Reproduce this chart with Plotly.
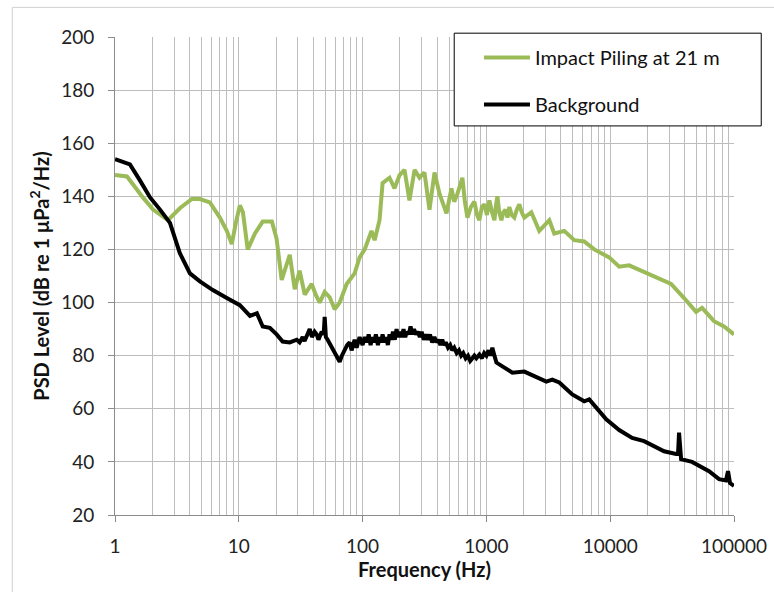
import plotly.graph_objects as go

# Power spectral density, impact piling vs. background
pile_freq = [1, 1.25, 1.68, 2.03, 2.68, 3.34, 4.18, 4.85, 5.84, 7.03, 8.0, 8.78, 9.46, 10.2,
             10.8, 11.8, 13.5, 15.6, 18.5, 20.2, 22.2, 23.9, 25.8, 28.3, 31.0, 34.1, 38.8,
             41.8, 45.0, 49.4, 54.2, 59.5, 65.3, 74.3, 86.2, 94.6, 104, 118, 125, 137, 145,
             165, 181, 199, 218, 239, 263, 288, 316, 347, 381, 418, 476, 522, 550, 584, 610,
             640, 670, 703, 750, 800, 840, 878, 920, 964, 1010, 1057, 1110, 1161, 1190, 1227,
             1270, 1322, 1370, 1423, 1480, 1532, 1600, 1681, 1760, 1845, 1930, 2024, 2306, 2674,
             3222, 3533, 4256, 5126, 6166, 7431, 9817, 11823, 14227, 18793, 24840, 31032,
             39525, 49377, 55228, 69003, 83058, 100000]
pile_psd = [148, 147.5, 139.6, 135, 131, 135.5, 139, 139, 137.7, 132, 127, 122, 130, 136.6,
            134, 120, 126, 130.5, 130.5, 124, 108.5, 113, 118, 105, 112, 103, 107,
            103, 100, 104, 102, 97.5, 100, 107, 111, 117, 120, 127, 123.5, 131, 145,
            147, 143, 148, 150, 138.5, 150, 147, 149, 135, 149, 141, 133.6, 143, 138, 141, 144,
            147, 138, 132, 136, 138, 133, 131, 136, 137, 133, 138.5, 134, 131, 136, 140,
            134, 131, 134, 135, 132, 136, 133, 132, 135, 137, 134, 132, 134, 127,
            131, 126, 127, 123.5, 123, 120, 117, 113.5, 114, 111.5, 109, 107,
            101.7, 96.5, 98, 93, 91, 88]

bg_freq = [1, 1.32, 1.59, 1.92, 2.31, 2.78, 3.34, 4.03, 4.85, 6.17, 8.0, 10.2, 12.3, 14.0,
           15.6, 17.8, 20.2, 22.6, 25.8, 29.4, 31, 32.8, 34, 35.5, 37.4, 39, 41, 42.6, 44,
           46.7, 48.5, 49.4, 50.5, 52.2, 55, 57.3, 60, 63, 65.3, 68, 71.6, 75, 78.6, 81.5,
           86.2, 89.5, 94.6, 98.2, 100, 104, 108, 112, 116, 120, 124, 128, 133, 137, 141,
           145, 150, 155, 160, 165, 170, 176, 182, 188, 194, 200, 207, 214, 221, 228, 236,
           244, 252, 260, 270, 280, 290, 300, 312, 325, 338, 350, 365, 380, 395, 410, 425,
           440, 455, 470, 490, 510, 530, 550, 575, 600, 625, 650, 680, 710, 740, 771, 800,
           830, 878, 920, 960, 1000, 1040, 1077, 1117, 1161, 1205, 1397,
           1621, 2024, 2531, 3048, 3406, 3878, 4939, 6166, 6771, 8155, 9289, 11823, 15036,
           18793, 22637, 27252, 34058, 35320, 35981, 36700, 37384, 45826, 52246, 62843,
           75694, 86100, 89470, 92880, 100000]
bg_psd = [154, 152, 146, 139.6, 135, 130, 118.6, 111, 108, 104.7, 101.7, 99, 95, 96,
          91, 90.5, 88, 85.3, 85, 86, 85, 87, 85.5, 88, 90, 87, 89, 88, 86,
          89, 88, 94.6, 87, 86, 84, 83, 81, 79, 77.7, 80, 82, 84, 85, 82,
          86, 83, 87, 84, 84, 87, 85, 88, 84, 87, 85, 88, 84, 87, 85,
          88, 85, 87, 84, 88, 86, 89, 86, 90, 87, 89, 87, 90, 87, 89, 88,
          91, 88, 90, 88, 89, 87, 89, 86, 88, 86, 88, 85, 87, 85, 86, 84,
          86, 84, 85, 83, 84, 82, 83, 81, 82, 80, 81, 79, 80, 78, 79, 80,
          79, 80.4, 79, 81, 80, 82, 80, 83, 80, 77.4, 75.5,
          73.6, 74, 72, 70.2, 71, 69.9, 65.4, 62.8, 63.5, 59, 56, 52, 49,
          47.8, 46, 44, 43, 43, 51, 43, 41, 40, 38.5, 36.5,
          33.5, 33, 36.5, 32, 31]

x_tickvals = [1, 10, 100, 1000, 10000, 100000]
x_ticktext = ["1", "10", "100", "1000", "10000", "100000"]
x_minorvals = [m * d for d in [1, 10, 100, 1000, 10000] for m in range(2, 10)]

FONT = "Lato, 'Open Sans', sans-serif"
GRID = "#bdbdbd"
AXIS = "#8c8c8c"

fig = go.Figure()
fig.add_trace(go.Scatter(x=pile_freq, y=pile_psd, mode="lines", name="Impact Piling at 21 m",
                         legendgroup="a", line=dict(color="#9bbb59", width=4)))
fig.add_trace(go.Scatter(x=bg_freq, y=bg_psd, mode="lines", name="Background",
                         legendgroup="b", line=dict(color="#000000", width=4)))

fig.update_layout(
    width=774, height=592,
    margin=dict(l=115, r=40, t=37, b=77, autoexpand=False),
    paper_bgcolor="white", plot_bgcolor="white",
    font=dict(family=FONT, color="#222222", size=19),
    showlegend=True,
    legend=dict(x=0.588, y=0.998, xanchor="left", yanchor="top",
                bgcolor="rgba(0,0,0,0)", borderwidth=0,
                font=dict(size=20, color="#111111"),
                itemwidth=46, tracegroupgap=18, traceorder="grouped"),
    shapes=[
        # outer chart frame
        dict(type="rect", xref="paper", yref="paper", x0=-0.166, x1=1.07, y0=-0.17, y1=1.062,
             line=dict(color="#d0d0d0", width=1), layer="below"),
        # legend frame
        dict(type="rect", xref="paper", yref="paper", x0=0.548, x1=1.044, y0=0.814, y1=1.008,
             line=dict(color="#000000", width=1), fillcolor="white", layer="above"),
    ],
)

fig.update_xaxes(
    type="log", range=[0, 5], automargin=False,
    tickvals=x_tickvals, ticktext=x_ticktext,
    ticks="outside", ticklen=6, tickcolor=AXIS, ticklabelstandoff=8,
    showgrid=True, gridcolor=GRID, gridwidth=1,
    minor=dict(tickvals=x_minorvals, showgrid=True, gridcolor=GRID, gridwidth=1, ticks=""),
    showline=True, linecolor=AXIS, linewidth=1,
    title=dict(text="<b>Frequency (Hz)</b>", font=dict(size=20, color="#111111"), standoff=6),
    tickfont=dict(size=19, color="#222222"),
    zeroline=False,
)
fig.update_yaxes(
    range=[20, 200], dtick=20, tick0=20, automargin=False,
    ticks="outside", ticklen=6, tickcolor=AXIS, ticklabelstandoff=10,
    showgrid=True, gridcolor=GRID, gridwidth=1,
    showline=True, linecolor=AXIS, linewidth=1,
    title=dict(text="<b>PSD Level (dB re 1 μPa<sup>2</sup>/Hz)</b>", font=dict(size=20, color="#111111"),
               standoff=6),
    tickfont=dict(size=19, color="#222222"),
    zeroline=False,
)

fig.write_html("out.html")
